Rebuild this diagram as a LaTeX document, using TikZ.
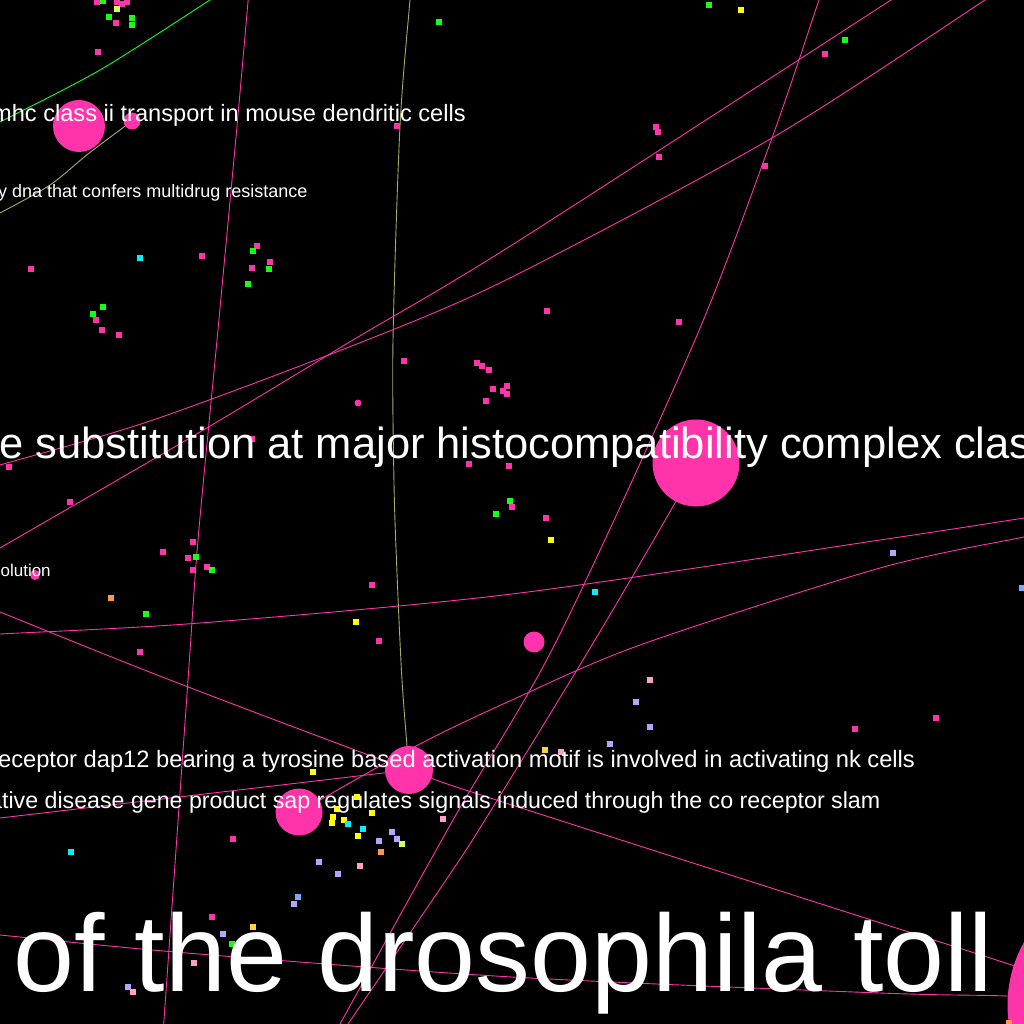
\documentclass[tikz,border=0pt]{standalone}
\usepackage{fontspec}
\setmainfont{Liberation Sans}
\definecolor{pk}{RGB}{255,51,170}
\definecolor{gr}{RGB}{20,255,20}
\definecolor{ol}{RGB}{160,175,100}
\definecolor{yl}{RGB}{255,255,0}
\definecolor{yg}{RGB}{215,255,90}
\definecolor{cy}{RGB}{0,240,255}
\definecolor{lv}{RGB}{180,165,255}
\definecolor{lp}{RGB}{255,160,200}
\definecolor{orn}{RGB}{255,150,80}
\definecolor{bl}{RGB}{120,170,255}
\definecolor{yo}{RGB}{255,210,60}
\tikzset{
  edge/.style={draw=pk, line width=0.9pt},
  oedge/.style={draw=ol, line width=0.9pt},
  gedge/.style={draw=gr, line width=0.9pt},
  dot/.style={rectangle, fill=#1, minimum size=5.5pt, inner sep=0pt, draw=none},
  bub/.style={circle, fill=pk, minimum size=#1, inner sep=0pt, draw=none},
  lbl/.style={anchor=base west, inner sep=0pt, text=white}
}
\newcommand{\fs}[1]{\fontsize{#1}{#1}\selectfont}
\begin{document}
\begin{tikzpicture}[x=1pt,y=-1pt]
\useasboundingbox (0,0) rectangle (1024,1024);
\fill[black] (0,0) rectangle (1024,1024);
\clip (0,0) rectangle (1024,1024);

% ---- edges ----
\draw[gedge] plot[smooth] coordinates {(225,-10) (210,0) (100,70) (0,122) (-15,130)};
\draw[oedge] plot[smooth] coordinates {(132,121) (88,154) (50,185) (0,213) (-20,223)};
\draw[oedge] plot[smooth] coordinates {(411,-10) (410,0) (400,126) (393,340) (394,483) (397,573) (402,680) (409,770)};
\draw[edge] plot[smooth] coordinates {(249,-10) (237,126) (217,340) (198,540) (188,680) (163,1034)};
\draw[edge] plot[smooth] coordinates {(-10,554) (0,548) (200,432) (353,340) (512,245) (891,0) (905,-9)};
\draw[edge] plot[smooth] coordinates {(-10,468) (0,465) (153,420) (367,340) (512,277) (772,138) (985,0) (1000,-10)};
\draw[edge] plot[smooth] coordinates {(823,-10) (819,0) (772,138) (695,340) (557,640) (453,820) (340,1024) (334,1034)};
\draw[edge] plot[smooth] coordinates {(696,463) (675,503) (595,640) (485,820) (446,880) (348,1024) (341,1034)};
\draw[edge] plot[smooth] coordinates {(-10,635) (0,634) (200,623) (512,594) (880,540) (1024,518) (1034,516)};
\draw[edge] plot[smooth] coordinates {(299,812) (418,745) (512,700) (640,645) (880,568) (1024,537) (1034,535)};
\draw[edge] plot[smooth] coordinates {(-10,608) (0,612) (170,680) (409,770) (512,805) (1012,965) (1135,1005)};
\draw[edge] plot[smooth] coordinates {(-10,934) (0,935) (187,953) (512,977) (880,993) (1008,996) (1135,1002)};
\draw[edge] plot[smooth] coordinates {(-10,819) (0,818) (409,770)};

% ---- circles ----
\node[bub=52pt] (c1) at (79,126) {};
\node[bub=17pt] (c2) at (132,121) {};
\node[bub=87pt] (c3) at (696,463) {};
\node[bub=21pt] (c4) at (534,642) {};
\node[bub=48pt] (c5) at (409,770) {};
\node[bub=47pt] (c6) at (299,812) {};
\node[bub=255pt] (c7) at (1135,1005) {};
\node[bub=10pt] (c8) at (35,575) {};
\node[bub=7pt] (c9) at (358,403) {};

% ---- small squares ----
\foreach \x/\y/\c [count=\i] in {
 97/2/pk, 103/1/gr, 117/2/pk, 122/4/pk, 127/2/pk, 117/9/yg, 109/17/gr, 132/18/gr, 116/23/pk, 132/25/gr, 98/52/pk,
 439/22/gr, 397/126/pk, 140/258/cy, 31/269/pk, 202/256/pk, 257/246/pk, 253/251/gr, 270/262/pk, 252/268/pk, 269/269/gr, 248/284/gr,
 103/307/gr, 93/314/gr, 96/320/pk, 102/330/pk, 119/335/pk,
 709/5/gr, 741/10/yl, 845/40/gr, 825/54/pk, 656/127/pk, 658/132/pk, 659/157/pk, 765/166/pk, 547/311/pk, 679/322/pk,
 404/361/pk, 477/363/pk, 482/366/pk, 489/370/pk, 507/386/pk, 493/389/pk, 503/391/pk, 507/394/pk, 486/401/pk,
 252/439/pk, 9/467/pk, 469/464/pk, 509/466/pk, 70/502/pk, 510/501/gr, 512/507/pk, 496/514/gr,
 193/542/pk, 163/552/pk, 188/558/pk, 196/557/gr, 207/567/pk, 212/570/gr, 193/570/pk, 111/598/orn, 146/614/gr,
 356/622/yl, 372/585/pk, 379/641/pk, 140/652/pk,
 546/518/pk, 551/540/yl, 595/592/cy, 893/553/lv, 1022/588/bl, 650/680/lp,
 313/772/yl, 357/797/yl, 337/809/yl, 372/813/yl, 333/817/yl, 344/820/yl, 348/824/cy, 332/823/yl, 363/829/cy, 358/836/yl,
 392/832/lv, 379/841/lv, 397/839/lv, 402/844/yg, 381/852/orn, 443/819/lp, 233/839/pk, 71/852/cy, 319/862/lv, 360/866/lp,
 338/874/lv, 298/897/bl, 294/904/lv, 212/917/pk, 253/927/yo, 223/934/lv, 232/944/gr, 194/963/lp, 128/987/lv, 133/992/lp,
 636/702/lv, 650/727/lv, 610/744/lv, 545/750/yo, 561/752/lp, 855/729/pk, 936/718/pk, 1009/1023/orn}
 { \node[dot=\c] (q\i) at (\x,\y) {}; }

% ---- labels ----
\node[lbl] (t1) at (-8,122) {\fs{23.6}mhc class ii transport in mouse dendritic cells};
\node[lbl] (t2) at (-2,198) {\fs{18}y dna that confers multidrug resistance};
\node[lbl] (t3) at (-1,458) {\fs{43.5}e substitution at major histocompatibility complex class};
\node[lbl] (t4) at (0.4,576) {\fs{17}olution};
\node[lbl] (t5) at (-10,767) {\fs{23.7}receptor dap12 bearing a tyrosine based activation motif is involved in activating nk cells};
\node[lbl] (t6) at (-11,808) {\fs{23.2}ative disease gene product sap regulates signals induced through the co receptor slam};
\node[lbl] (t7) at (13,991) {\fs{109.5}of the drosophila toll};
\end{tikzpicture}
\end{document}
